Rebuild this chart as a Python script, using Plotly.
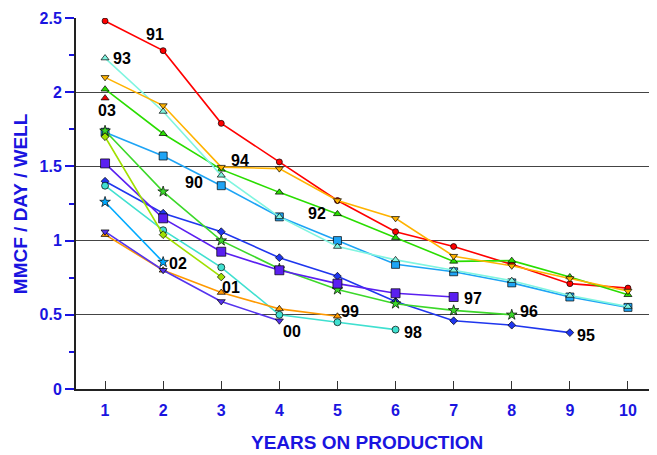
import plotly.graph_objects as go

years = [1, 2, 3, 4, 5, 6, 7, 8, 9, 10]

s91 = [2.48, 2.28, 1.79, 1.53, 1.27, 1.06, 0.96, 0.84, 0.71, 0.68]
s93 = [2.23, 1.87, 1.44, 1.16, 0.96, 0.87, 0.80, 0.73, 0.63, 0.555]
s94 = [2.10, 1.91, 1.495, 1.485, 1.27, 1.15, 0.895, 0.83, 0.745, 0.66]
s92 = [2.02, 1.72, 1.48, 1.325, 1.18, 1.02, 0.86, 0.865, 0.755, 0.635]
s90 = [1.73, 1.57, 1.37, 1.16, 1.00, 0.84, 0.79, 0.715, 0.62, 0.55]
s96 = [1.74, 1.33, 1.00, 0.81, 0.67, 0.575, 0.53, 0.50]
s97 = [1.52, 1.15, 0.925, 0.80, 0.71, 0.645, 0.62]
s95 = [1.40, 1.185, 1.06, 0.885, 0.76, 0.59, 0.46, 0.43, 0.38]
s98 = [1.37, 1.07, 0.82, 0.50, 0.45, 0.40]
s02 = [1.26, 0.855]
s01 = [1.70, 1.04, 0.755]
s99 = [1.04, 0.80, 0.65, 0.54, 0.49]
s00 = [1.06, 0.80, 0.59, 0.46]
s03 = [1.96]

series = [
    ("90", s90, "#1EA4F5", "square", 8),
    ("91", s91, "#FF0000", "circle", 6),
    ("92", s92, "#2ADD00", "triangle-up", 7),
    ("93", s93, "#80F5E0", "triangle-up", 7),
    ("94", s94, "#FFB300", "triangle-down", 7),
    ("95", s95, "#1F36EE", "diamond", 6),
    ("96", s96, "#3CD82A", "star", 8),
    ("97", s97, "#5A1FF0", "square", 9),
    ("98", s98, "#40E0D0", "circle", 7),
    ("99", s99, "#FF9900", "triangle-up", 7),
    ("00", s00, "#5533EE", "triangle-down", 7),
    ("01", s01, "#A0E000", "diamond", 6),
    ("02", s02, "#00AAFF", "star", 8),
    ("03", s03, "#EE0000", "triangle-up", 7),
]

label_names = ["91", "93", "03", "94", "90", "92", "02", "01", "00", "99", "98", "97", "96", "95"]
label_x = [1.86, 1.29, 1.03, 3.32, 2.53, 4.65, 2.25, 3.16, 4.21, 5.22, 6.30, 7.33, 8.29, 9.28]
label_y = [2.39, 2.23, 1.88, 1.54, 1.39, 1.186, 0.848, 0.686, 0.389, 0.524, 0.382, 0.607, 0.524, 0.361]

FONT = "Liberation Sans, Arial"
blue = "#1A14E0"

fig = go.Figure()
for name, vals, color, sym, size in series:
    fig.add_trace(go.Scatter(
        x=years[:len(vals)], y=vals, mode="lines+markers", name=name,
        line=dict(color=color, width=1.6),
        marker=dict(symbol=sym, size=size, color=color, line=dict(color="black", width=0.7)),
        showlegend=False,
    ))

for n, lx, ly in zip(label_names, label_x, label_y):
    fig.add_annotation(x=lx, y=ly, text="<b>" + n + "</b>", showarrow=False,
                       font=dict(family=FONT, size=16, color="#000"),
                       xanchor="center", yanchor="middle")

fig.add_annotation(xref="paper", yref="paper", x=0.5, y=-0.176,
                   text="<b>YEARS ON PRODUCTION</b>", showarrow=False,
                   font=dict(family=FONT, size=19, color=blue),
                   xanchor="center", yanchor="bottom", borderpad=0)
fig.add_annotation(xref="paper", yref="paper", x=-0.115, y=0.5, textangle=-90,
                   text="<b>MMCF / DAY / WELL</b>", showarrow=False,
                   font=dict(family=FONT, size=19, color=blue),
                   xanchor="left", yanchor="middle", borderpad=0)

fig.update_layout(
    width=649, height=447,
    margin=dict(l=68, r=0, t=10, b=66),
    plot_bgcolor="white", paper_bgcolor="white",
    font=dict(family=FONT, color=blue),
    xaxis=dict(
        range=[0.5, 10.5], tickvals=years, ticks="inside", ticklen=8, tickcolor="#333",
        showgrid=False, zeroline=False, showline=True, linecolor="#222", linewidth=2,
        tickfont=dict(size=16, color=blue, family=FONT, weight="bold"),
        ticklabelstandoff=6,
        automargin=False,
    ),
    yaxis=dict(
        range=[0, 2.5], tickvals=[0, 0.5, 1, 1.5, 2, 2.5], ticktext=["0", "0.5", "1", "1.5", "2", "2.5"],
        ticks="outside", ticklen=9, tickcolor=blue, tickwidth=1.5,
        minor=dict(tickvals=[0.25, 0.75, 1.25, 1.75, 2.25], ticks="outside", ticklen=5, tickcolor=blue),
        showgrid=True, gridcolor="#444", gridwidth=1,
        zeroline=False, showline=True, linecolor="#222", linewidth=2,
        tickfont=dict(size=16, color=blue, family=FONT, weight="bold"),
        automargin=False,
    ),
)

fig.write_html("out.html")
